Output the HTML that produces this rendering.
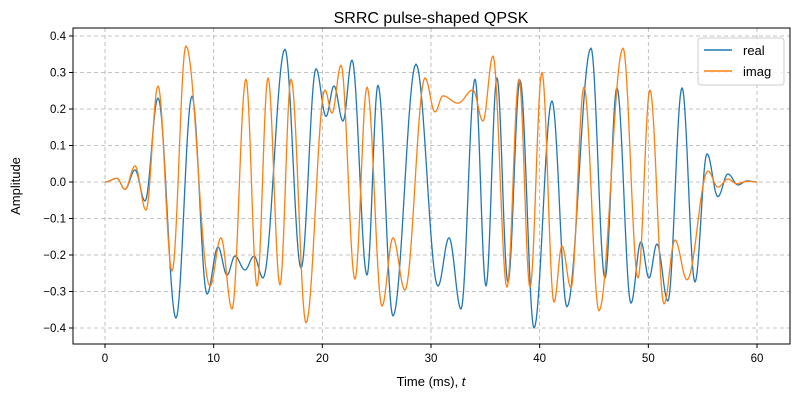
<!DOCTYPE html>
<html><head><meta charset="utf-8"><style>
body{margin:0;background:#fff}
svg{font-family:"Liberation Sans","DejaVu Sans",sans-serif}
</style></head><body>
<svg id="c" width="800" height="400" xmlns="http://www.w3.org/2000/svg">
<rect width="800" height="400" fill="#fff"/>
<g id="grid"></g><g id="series"></g><g id="axes"></g>
<text x="431" y="23" font-size="16" text-anchor="middle">SRRC pulse-shaped QPSK</text>
<text x="431" y="386" font-size="13" text-anchor="middle">Time (ms), <tspan font-style="italic">t</tspan></text>
<text transform="translate(20,186) rotate(-90)" font-size="13" text-anchor="middle">Amplitude</text>
<g>
<rect x="698" y="38" width="86" height="47" rx="3" fill="#fff" fill-opacity="0.8" stroke="#ccc"/>
<line x1="704" y1="50" x2="732" y2="50" stroke="#1f77b4" stroke-width="1.5"/>
<text x="743" y="55" font-size="13">real</text>
<line x1="704" y1="71" x2="732" y2="71" stroke="#ff7f0e" stroke-width="1.5"/>
<text x="743" y="76" font-size="13">imag</text>
</g>
</svg>
<script>
const realT=[0,1.1,1.84,2.76,3.68,4.88,6.53,8.0,9.39,10.4,11.23,11.96,12.88,13.71,14.54,16.56,18.04,19.42,20.34,21.07,21.9,22.73,24.11,25.12,26.5,28.62,30.64,31.66,32.76,34.05,35.06,36.07,37.08,38.19,39.48,41.13,42.51,44.72,46.01,47.11,48.4,49.32,50.06,50.79,51.8,53.1,54.29,55.4,56.4,57.33,58.25,59.08,60];
const realV=[0,0.01,-0.02,0.033,-0.052,0.23,-0.373,0.235,-0.307,-0.178,-0.255,-0.203,-0.241,-0.203,-0.263,0.364,-0.236,0.31,0.18,0.263,0.167,0.334,-0.255,0.265,-0.367,0.323,-0.285,-0.153,-0.348,0.282,-0.285,0.285,-0.274,0.279,-0.4,0.222,-0.342,0.367,-0.263,0.258,-0.332,-0.164,-0.263,-0.17,-0.326,0.258,-0.274,0.077,-0.04,0.022,-0.008,0.003,0];
const imagT=[0,1.1,1.84,2.76,3.77,4.88,6.17,7.45,9.66,10.67,11.69,12.97,13.99,15.0,16.1,17.12,18.5,20.24,20.89,21.72,23.0,24.11,25.49,26.5,27.6,29.45,30.37,31.1,32.48,33.86,34.78,35.7,36.99,38.1,39.11,40.21,41.32,42.05,42.88,44.08,45.46,47.67,49.05,50.15,51.44,52.45,53.56,55.49,56.4,57.33,58.16,59.08,60];
const imagV=[0,0.01,-0.02,0.044,-0.077,0.263,-0.244,0.373,-0.285,-0.153,-0.348,0.282,-0.285,0.285,-0.282,0.282,-0.386,0.252,0.189,0.32,-0.266,0.26,-0.34,-0.153,-0.296,0.285,0.192,0.236,0.216,0.252,0.167,0.345,-0.288,0.282,-0.288,0.3,-0.329,-0.175,-0.29,0.26,-0.353,0.367,-0.263,0.252,-0.334,-0.159,-0.268,0.03,-0.014,0.008,-0.005,0.002,0];
const xTicks=[0,10,20,30,40,50,60];
const yTicks=[0.4,0.3,0.2,0.1,0.0,-0.1,-0.2,-0.3,-0.4];
const L=73,R=790,T=28,B=344;
const X=t=>105+(t)*(757-105)/60;
const Y=v=>182-v*365;
const NS="http://www.w3.org/2000/svg";
function mk(tag,attrs,parent){const e=document.createElementNS(NS,tag);for(const k in attrs)e.setAttribute(k,attrs[k]);parent.appendChild(e);return e;}
const grid=document.getElementById('grid'),axes=document.getElementById('axes'),ser=document.getElementById('series');
xTicks.forEach(t=>{
 const g=mk('line',{x1:X(t),x2:X(t),y1:T,y2:B,stroke:'#b0b0b0','stroke-dasharray':'4,3','stroke-width':0.8},grid);
 
 
 mk('line',{x1:X(t),x2:X(t),y1:B,y2:B+4,stroke:'#000'},axes);
 const tx=mk('text',{x:X(t),y:B+18,'font-size':11.5,'text-anchor':'middle'},axes);
 tx.textContent=t;
 
 
});
yTicks.forEach(v=>{
 const g=mk('line',{x1:L,x2:R,y1:Y(v),y2:Y(v),stroke:'#b0b0b0','stroke-dasharray':'4,3','stroke-width':0.8},grid);
 
 
 mk('line',{x1:L-4,x2:L,y1:Y(v),y2:Y(v),stroke:'#000'},axes);
 const tx=mk('text',{x:L-7,y:Y(v)+4,'font-size':11.5,'text-anchor':'end'},axes);
 tx.textContent=(v<0?'\u2212':'')+Math.abs(v).toFixed(1);
 
 
});
const fr=mk('rect',{x:L,y:T,width:R-L,height:B-T,fill:'none',stroke:'#000','stroke-width':1},axes);


function path(ts,vs,color,name){
 const n=Math.min(ts.length,vs.length);let d='M'+X(ts[0]).toFixed(2)+','+Y(vs[0]).toFixed(2);
 for(let i=0;i<n-1;i++){for(let k=1;k<=16;k++){const s=k/16,w=(1-Math.cos(Math.PI*s))/2;
  const t=ts[i]+(ts[i+1]-ts[i])*s,v=vs[i]+(vs[i+1]-vs[i])*w;d+='L'+X(t).toFixed(2)+','+Y(v).toFixed(2);}}
 const p=mk('path',{d:d,fill:'none',stroke:color,'stroke-width':1.3,'stroke-linejoin':'round'},ser);
 
 
}
path(realT,realV,'#1f77b4','real-line');
path(imagT,imagV,'#ff7f0e','imag-line');
</script>
</body></html>
